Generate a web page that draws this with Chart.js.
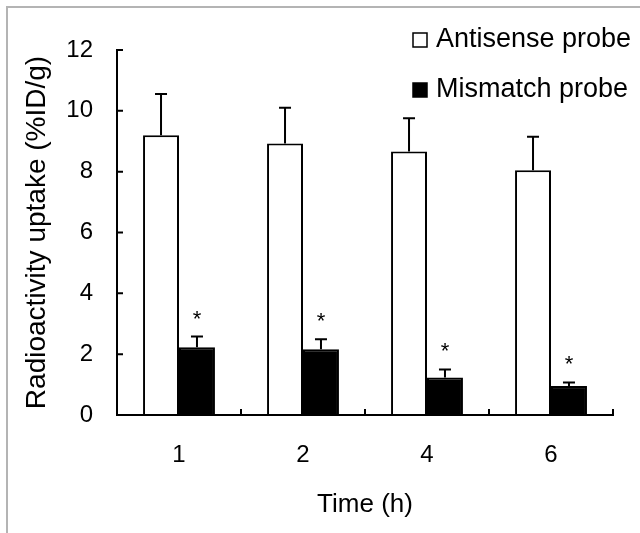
<!DOCTYPE html>
<html>
<head>
<meta charset="utf-8">
<script src="https://cdn.jsdelivr.net/npm/chart.js@4/dist/chart.umd.min.js"></script>
<style>
  body { margin: 0; background: #fff; }
  #wrap { position: relative; width: 640px; height: 533px; overflow: hidden; }
  #frame { position: absolute; left: 6px; top: 6px; width: 700px; height: 600px;
           border-top: 2px solid #b4b4b4; border-left: 2px solid #b4b4b4; pointer-events: none; }
</style>
</head>
<body>
<div id="wrap">
  <canvas id="uptakeChart" width="640" height="533"></canvas>
  <div id="frame"></div>
</div>
<script>
const timePoints = ['1', '2', '4', '6'];
const antisenseMean = [9.2, 8.93, 8.66, 8.05];
const antisenseErr = [1.35, 1.17, 1.10, 1.10];
const mismatchMean = [2.23, 2.16, 1.23, 0.95];
const mismatchErr = [0.35, 0.33, 0.27, 0.12];
const significance = ['*', '*', '*', '*'];
const yTickValues = [0, 2, 4, 6, 8, 10, 12];

const FONT = '"Liberation Sans", Arial, sans-serif';
const errors = [antisenseErr, mismatchErr];

// error bars, asterisks, inward ticks and the legend
const extras = {
    id: 'extras',
    afterDatasetsDraw(chart) {
        const ctx = chart.ctx;
        const x = chart.scales.x;
        const y = chart.scales.y;
        const area = chart.chartArea;
        ctx.save();
        ctx.strokeStyle = '#000';
        ctx.fillStyle = '#000';
        ctx.lineWidth = 2;

        chart.data.datasets.forEach((ds, i) => {
            chart.getDatasetMeta(i).data.forEach((bar, j) => {
                const top = y.getPixelForValue(ds.data[j] + errors[i][j]);
                ctx.beginPath();
                ctx.moveTo(bar.x, bar.y);
                ctx.lineTo(bar.x, top);
                ctx.moveTo(bar.x - 6, top);
                ctx.lineTo(bar.x + 6, top);
                ctx.stroke();
                if (i === 1 && significance[j]) {
                    ctx.font = '22px ' + FONT;
                    ctx.textAlign = 'center';
                    ctx.textBaseline = 'alphabetic';
                    ctx.fillText(significance[j], bar.x, top - 11);
                }
            });
        });

        // axes on top of the bars
        const base = y.getPixelForValue(0);
        ctx.beginPath();
        ctx.moveTo(area.left, base);
        ctx.lineTo(area.right, base);
        ctx.moveTo(area.left, area.top);
        ctx.lineTo(area.left, base);
        yTickValues.forEach(v => {
            const py = y.getPixelForValue(v);
            ctx.moveTo(area.left, py);
            ctx.lineTo(area.left + 6, py);
        });
        const n = timePoints.length;
        for (let k = 1; k <= n; k++) {
            const px = x.left + k * x.width / n;
            ctx.moveTo(px, base);
            ctx.lineTo(px, base - 6);
        }
        ctx.stroke();

        // legend
        ctx.font = '27px ' + FONT;
        ctx.textAlign = 'left';
        ctx.textBaseline = 'middle';
        chart.data.datasets.forEach((ds, i) => {
            const cy = 40 + i * 50;
            const bx = area.right - 200;
            ctx.lineWidth = 1.5;
            ctx.fillStyle = ds.backgroundColor;
            ctx.fillRect(bx, cy - 7, 14, 14);
            ctx.strokeRect(bx, cy - 7, 14, 14);
            ctx.fillStyle = '#000';
            ctx.fillText(ds.label, bx + 23, cy);
        });
        ctx.restore();
    }
};

new Chart(document.getElementById('uptakeChart').getContext('2d'), {
    type: 'bar',
    data: {
        labels: timePoints,
        datasets: [
            {
                label: 'Antisense probe',
                data: antisenseMean,
                backgroundColor: '#ffffff',
                borderColor: '#000000',
                borderWidth: 2
            },
            {
                label: 'Mismatch probe',
                data: mismatchMean,
                backgroundColor: '#000000',
                borderColor: '#000000',
                borderWidth: 2
            }
        ]
    },
    options: {
        responsive: false,
        animation: false,
        devicePixelRatio: 1,
        categoryPercentage: 0.58,
        barPercentage: 1.0,
        layout: { padding: { top: 50, right: 27, left: 0, bottom: 0 } },
        plugins: {
            legend: { display: false },
            tooltip: { enabled: false }
        },
        scales: {
            x: {
                offset: true,
                grid: { display: false, drawTicks: false },
                border: { display: true, color: '#000', width: 2 },
                ticks: { color: '#000', padding: 26, font: { family: FONT, size: 24 } },
                title: {
                    display: true,
                    text: 'Time (h)',
                    color: '#000',
                    padding: { bottom: 13 },
                    font: { family: FONT, size: 26 }
                },
                afterFit: s => { s.height = 118; }
            },
            y: {
                min: 0,
                max: 12,
                grid: { display: false, drawTicks: false },
                border: { display: true, color: '#000', width: 2 },
                afterBuildTicks: s => { s.ticks = yTickValues.map(v => ({ value: v })); },
                ticks: { color: '#000', padding: 24, font: { family: FONT, size: 24 } },
                title: {
                    display: true,
                    text: 'Radioactivity uptake (%ID/g)',
                    color: '#000',
                    padding: { top: 20 },
                    font: { family: FONT, size: 28 }
                },
                afterFit: s => { s.width = 117; }
            }
        }
    },
    plugins: [extras]
});
</script>
</body>
</html>
